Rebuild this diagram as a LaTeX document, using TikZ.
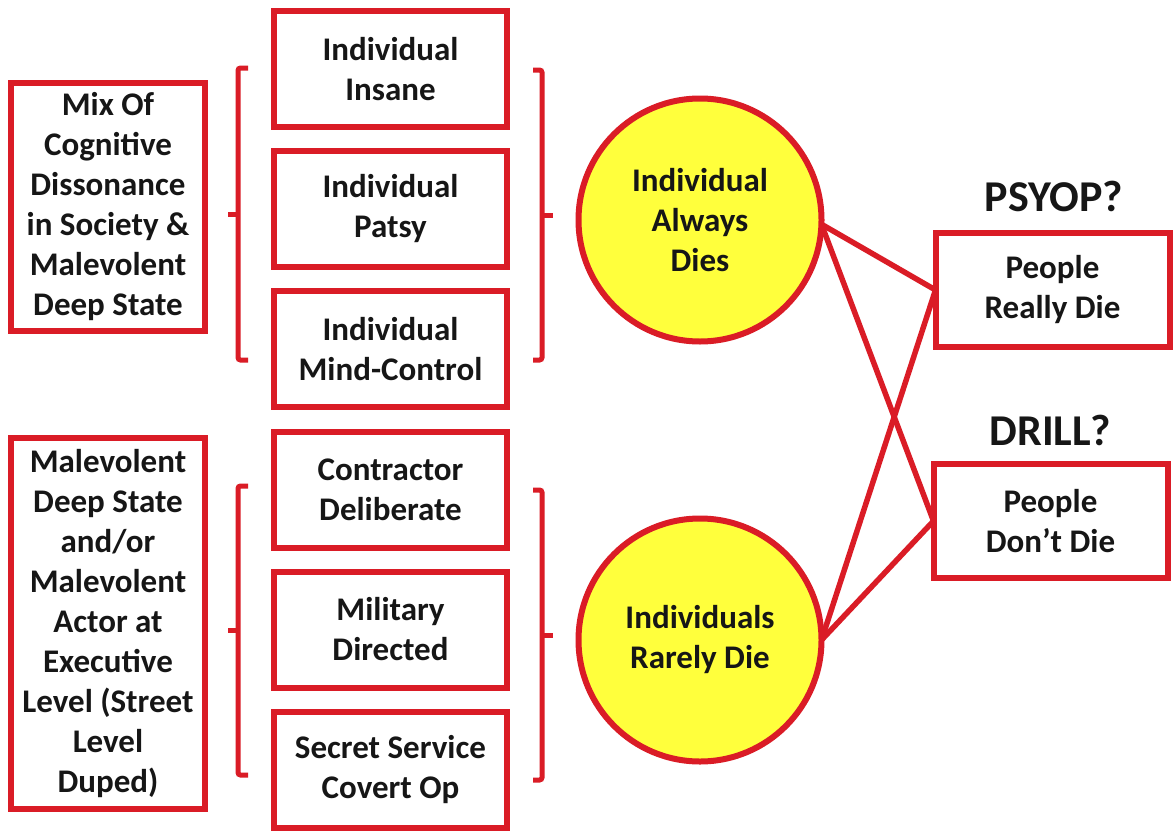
\documentclass[tikz,border=0pt]{standalone}
\usepackage{fontspec}
\setmainfont{Carlito}
\definecolor{bred}{RGB}{218,28,38}
\definecolor{cyel}{RGB}{255,255,60}
\definecolor{txt}{RGB}{22,22,22}
\begin{document}
\begin{tikzpicture}[x=1pt,y=-1pt,
  every node/.style={text=txt,align=center,inner sep=0pt,outer sep=0pt,
    font={\fontsize{33}{40}\selectfont\bfseries}},
  box/.style={draw=bred,line width=6pt,fill=white,rectangle},
  leftbox/.style={box,minimum width=194pt},
  midbox/.style={box,minimum width=233pt,minimum height=116pt},
  rbox/.style={box,minimum width=234pt,minimum height=114pt},
  ball/.style={draw=bred,line width=6pt,fill=cyel,circle,minimum size=243pt},
  link/.style={draw=bred,line width=5.5pt},
  brack/.style={draw=bred,line width=5pt,rounded corners=2.5pt},
  tag/.style={font={\fontsize{44}{50}\selectfont\bfseries}}]
\useasboundingbox (0,0) rectangle (1175,835);
\fill[white] (0,0) rectangle (1175,835);

% left boxes
\node[leftbox,minimum height=248pt] (mix) at (108,207)
  {Mix Of\\Cognitive\\Dissonance\\in Society \&\\Malevolent\\Deep State};
\node[leftbox,minimum height=371pt] (mal) at (108,623.5)
  {Malevolent\\Deep State\\and/or\\Malevolent\\Actor at\\Executive\\Level (Street\\Level\\Duped)};

% middle boxes
\node[midbox] (insane) at (390.5,69) {Individual\\Insane};
\node[midbox] (patsy) at (390.5,209) {Individual\\Patsy};
\node[midbox] (mind) at (390.5,349) {Individual\\Mind-Control};
\node[midbox] (contr) at (390.5,489.5) {Contractor\\Deliberate};
\node[midbox] (milit) at (390.5,629.5) {Military\\Directed};
\node[midbox] (secret) at (390.5,769.5) {Secret Service\\Covert Op};

% brackets
\draw[brack] (248,68) -- (238,68) -- (238,360) -- (248,360);
\draw[brack] (238,214) -- (228,214);
\draw[brack] (533,70) -- (542,70) -- (542,360) -- (533,360);
\draw[brack] (542,215) -- (553,215);
\draw[brack] (248,486) -- (238,486) -- (238,775) -- (248,775);
\draw[brack] (238,630) -- (228,630);
\draw[brack] (533,490) -- (542,490) -- (542,780) -- (533,780);
\draw[brack] (542,635) -- (553,635);

% circles
\node[ball] (always) at (700,220) {Individual\\Always\\Dies};
\node[ball] (rarely) at (700,640) {Individuals\\Rarely Die};

% right boxes
\node[rbox] (really) at (1052.5,290) {People\\Really Die};
\node[rbox] (dont) at (1050.5,521) {People\\Don’t Die};

\node[tag] (psyop) at (1054,196) {PSYOP?};
\node[tag] (drill) at (1050,430) {DRILL?};

% connectors
\draw[link] (always.-2) -- (really.west);
\draw[link] (always.-2) -- (dont.west);
\draw[link] (rarely.east) -- (really.west);
\draw[link] (rarely.east) -- (dont.west);
\end{tikzpicture}
\end{document}
